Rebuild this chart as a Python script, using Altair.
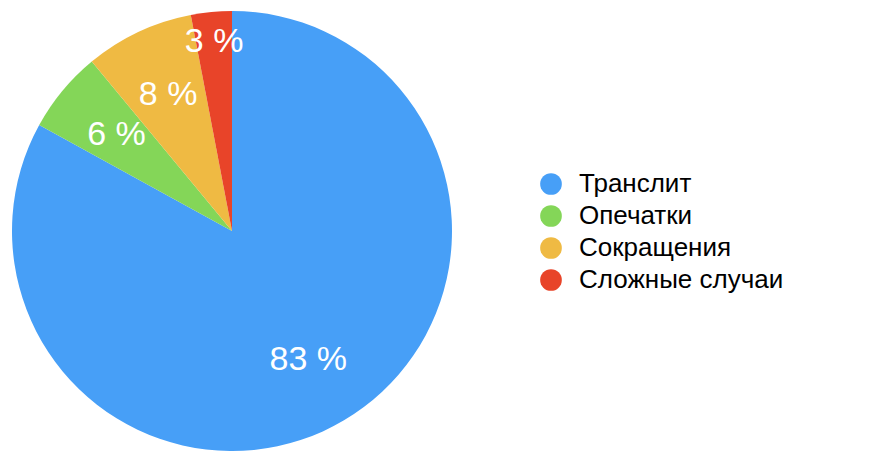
import altair as alt
import pandas as pd

categories = ["Транслит", "Опечатки", "Сокращения", "Сложные случаи"]
values = [83, 6, 8, 3]
colors = ["#479ff7", "#84d658", "#efba43", "#e84429"]

df = pd.DataFrame({"category": categories, "value": values, "idx": list(range(len(categories)))})

FONT = "Liberation Sans"

color = alt.Color(
    "category:N",
    scale=alt.Scale(domain=categories, range=colors),
    sort=categories,
    legend=alt.Legend(
        title=None,
        orient="none",
        legendX=526,
        legendY=160,
        symbolType="circle",
        symbolSize=470,
        symbolStrokeWidth=0,
        labelFontSize=26,
        labelFont=FONT,
        labelColor="#000000",
        labelOffset=15,
        rowPadding=6,
        labelLimit=400,
    ),
)

pie = alt.Chart(df).mark_arc(outerRadius=220, stroke=None).encode(
    theta=alt.Theta("value:Q", stack=True),
    order=alt.Order("idx:Q"),
    color=color,
)

labels = alt.Chart(df).transform_window(
    cum="sum(value)", sort=[alt.SortField("idx")]
).transform_calculate(
    mid="datum.cum - datum.value / 2",
    label="datum.value + ' %'",
    r="datum.value < 5 ? 190 : 150",
).mark_text(
    font=FONT, fontSize=34, color="white", align="center", baseline="middle"
).encode(
    theta=alt.Theta("mid:Q", stack=None),
    radius=alt.Radius("r:Q", scale=None),
    text="label:N",
)

chart = alt.layer(pie, labels).properties(
    width=440,
    height=440,
    padding={"left": 4, "top": 3, "right": 5, "bottom": 5},
).configure_view(stroke=None)

chart.save("out.html", embed_options={"renderer": "svg", "actions": False})
